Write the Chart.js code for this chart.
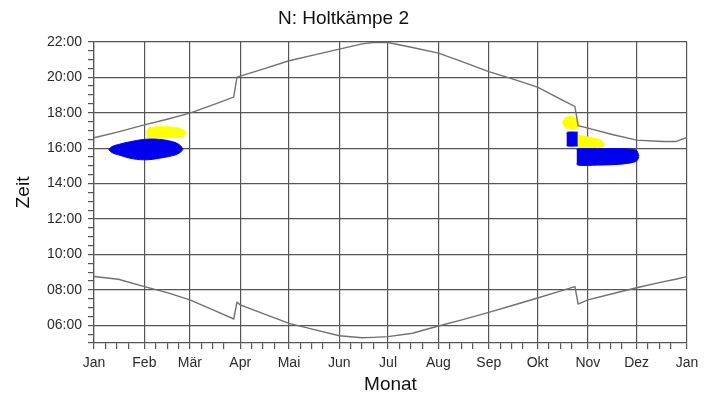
<!DOCTYPE html>
<html lang="de">
<head>
<meta charset="UTF-8">
<title>Schattenwurf – N: Holtkämpe 2</title>
<script src="https://cdn.jsdelivr.net/npm/chart.js"></script>
<style>
  body { margin: 0; background: #ffffff; }
  canvas { display: block; }
</style>
</head>
<body>
<canvas id="schattenChart" width="714" height="398"></canvas>
<script>
// Achsen: Tag im Jahr (0..365) und Uhrzeit in Stunden
const monthLabels = ['Jan', 'Feb', 'Mär', 'Apr', 'Mai', 'Jun', 'Jul', 'Aug', 'Sep', 'Okt', 'Nov', 'Dez', 'Jan'];
const monthStartDays = [0, 31, 59, 90, 120, 151, 181, 212, 243, 273, 304, 334, 365];

// Sonnenauf- und -untergang (mit Sommerzeitsprung Ende März / Ende Oktober)
const sunDays = [0, 15, 31, 45, 59, 74, 86, 88, 90, 105, 120, 135, 151, 165, 172, 181, 196, 212, 227, 243, 258, 273, 288, 296, 298, 304, 319, 334, 350, 358, 365];
const sunsetHours = [16.58, 16.92, 17.31, 17.63, 17.97, 18.47, 18.88, 20.0, 20.06, 20.49, 20.93, 21.25, 21.59, 21.88, 21.96, 21.96, 21.68, 21.36, 20.87, 20.32, 19.89, 19.44, 18.72, 18.35, 17.26, 17.13, 16.77, 16.45, 16.37, 16.37, 16.6];
const sunriseHours = [8.75, 8.6, 8.18, 7.84, 7.43, 6.84, 6.36, 7.3, 7.15, 6.63, 6.11, 5.77, 5.41, 5.3, 5.32, 5.36, 5.55, 5.96, 6.32, 6.73, 7.13, 7.54, 7.96, 8.18, 7.2, 7.43, 7.78, 8.12, 8.45, 8.6, 8.75];

// Schattenwurfzeiten: jeweils Ober- und Unterkante
const febBlueDays = [9.1, 11, 15.7, 23.9, 32.2, 40.3, 48.5, 52.7, 54.8];
const febBlueTop = [15.92, 16.08, 16.22, 16.39, 16.5, 16.49, 16.36, 16.18, 15.96];
const febBlueBottom = [15.92, 15.75, 15.6, 15.4, 15.34, 15.43, 15.58, 15.73, 15.93];

const febYellowDays = [32.3, 33.8, 43, 51, 54.8, 56.8];
const febYellowTop = [16.85, 17.12, 17.2, 17.15, 17.04, 16.88];
const febYellowBottom = [16.58, 16.58, 16.58, 16.61, 16.68, 16.88];

const octYellowDays = [288.5, 289.6, 292, 295, 297.5, 298.4];
const octYellowTop = [17.44, 17.66, 17.78, 17.76, 17.58, 17.4];
const octYellowBottom = [17.44, 17.22, 17.1, 17.08, 17.15, 17.28];

const octBlueDays = [290.8, 291.5, 297.8];
const octBlueTop = [16.82, 16.9, 16.9];
const octBlueBottom = [16.18, 16.12, 16.12];

const novYellowDays = [297.7, 304.2, 310.4, 312.8, 314.2];
const novYellowTop = [16.74, 16.62, 16.5, 16.4, 16.22];
const novYellowBottom = [16.0, 16.0, 16.02, 16.08, 16.22];

const novBlueDays = [297, 298.5, 310, 322, 331, 334, 335.4];
const novBlueTop = [15.95, 15.97, 15.97, 15.97, 15.94, 15.86, 15.55];
const novBlueBottom = [15.1, 15.03, 15.04, 15.08, 15.18, 15.28, 15.5];

const GRID = '#555555';
const YELLOW = '#ffff00';
const BLUE = '#0000ee';
const FONT = "'Liberation Sans', Arial, sans-serif";

function pts(xs, ys) {
  return xs.map((x, i) => ({ x: x, y: ys[i] }));
}

function sunLine(ys) {
  return {
    data: pts(sunDays, ys),
    borderColor: '#707070',
    borderWidth: 1.4,
    pointRadius: 0,
    tension: 0,
    fill: false
  };
}

// Fläche zwischen Ober- und Unterkante
function blob(days, top, bottom, color) {
  return [
    { data: pts(days, top), fill: '+1', backgroundColor: color, borderColor: color, borderWidth: 1, pointRadius: 0, tension: 0.4 },
    { data: pts(days, bottom), fill: false, borderColor: color, borderWidth: 1, pointRadius: 0, tension: 0.4 }
  ];
}

const datasets = [
  sunLine(sunsetHours),
  sunLine(sunriseHours),
  ...blob(febBlueDays, febBlueTop, febBlueBottom, BLUE),
  ...blob(octBlueDays, octBlueTop, octBlueBottom, BLUE),
  ...blob(novBlueDays, novBlueTop, novBlueBottom, BLUE),
  ...blob(febYellowDays, febYellowTop, febYellowBottom, YELLOW),
  ...blob(octYellowDays, octYellowTop, octYellowBottom, YELLOW),
  ...blob(novYellowDays, novYellowTop, novYellowBottom, YELLOW)
];

const ctx = document.getElementById('schattenChart').getContext('2d');
new Chart(ctx, {
  type: 'line',
  data: { datasets: datasets },
  options: {
    responsive: false,
    animation: false,
    layout: { padding: { left: 0, right: 27, top: 0, bottom: 0 } },
    plugins: {
      legend: { display: false },
      tooltip: { enabled: false },
      title: {
        display: true,
        text: 'N: Holtkämpe 2',
        color: '#111',
        font: { family: FONT, size: 19, weight: 'normal' },
        padding: { top: 7, bottom: 12 }
      }
    },
    scales: {
      x: {
        type: 'linear',
        min: 0,
        max: 365,
        afterBuildTicks: scale => {
          const t = [];
          monthStartDays.forEach((d, i) => {
            t.push({ value: d });
            if (i < 12) [7, 14, 21].forEach(o => t.push({ value: d + o }));
          });
          scale.ticks = t;
        },
        afterFit: scale => { scale.height = 55; },
        ticks: {
          autoSkip: false,
          maxRotation: 0,
          padding: 6,
          color: '#2a2a2a',
          font: { family: FONT, size: 14 },
          callback: v => {
            const i = monthStartDays.indexOf(v);
            return i >= 0 ? monthLabels[i] : '';
          }
        },
        grid: {
          color: c => (c.tick && monthStartDays.includes(c.tick.value)) ? GRID : 'rgba(0,0,0,0)',
          tickColor: GRID,
          tickLength: 6,
          lineWidth: 1.2
        },
        border: { color: GRID, width: 1.2 },
        title: {
          display: true,
          text: 'Monat',
          color: '#111',
          font: { family: FONT, size: 19 },
          padding: { top: 0, bottom: 2 }
        }
      },
      y: {
        type: 'linear',
        min: 5,
        max: 22,
        afterBuildTicks: scale => {
          const t = [];
          for (let h = 5; h <= 22; h += 0.5) t.push({ value: h });
          scale.ticks = t;
        },
        afterFit: scale => { scale.width = 94; },
        ticks: {
          autoSkip: false,
          padding: 6,
          color: '#2a2a2a',
          font: { family: FONT, size: 14 },
          callback: v => (v >= 6 && v % 2 === 0) ? String(v).padStart(2, '0') + ':00' : ''
        },
        grid: {
          color: c => (c.tick && c.tick.value >= 6 && c.tick.value % 2 === 0) ? GRID : 'rgba(0,0,0,0)',
          tickColor: GRID,
          tickLength: 6,
          lineWidth: 1.2
        },
        border: { color: GRID, width: 1.2 },
        title: {
          display: true,
          text: 'Zeit',
          color: '#111',
          font: { family: FONT, size: 19 },
          padding: { top: 12, bottom: 0 }
        }
      }
    }
  },
  plugins: [{
    id: 'weisserHintergrund',
    beforeDraw: chart => {
      const c = chart.ctx;
      c.save();
      c.fillStyle = '#ffffff';
      c.fillRect(0, 0, chart.width, chart.height);
      c.restore();
    }
  }]
});
</script>
</body>
</html>
